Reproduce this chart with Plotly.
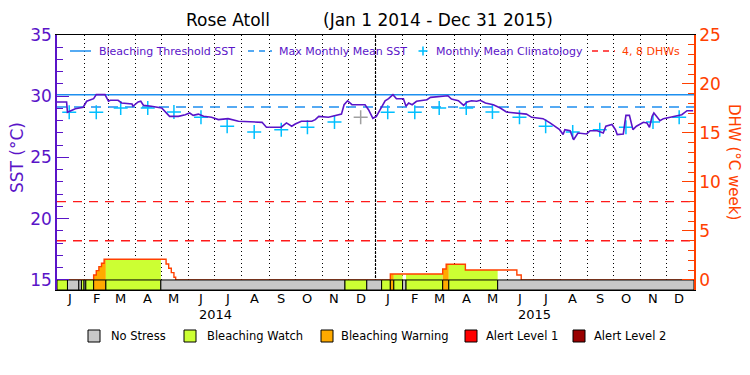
import plotly.graph_objects as go
import pandas as pd

site = "Rose Atoll"
period = "(Jan 1 2014 - Dec 31 2015)"

# ---------------- data ----------------
sst_dates = [
    '2014-01-01', '2014-01-12', '2014-01-13', '2014-01-22', '2014-01-31', '2014-02-04', '2014-02-12',
    '2014-02-15', '2014-02-25', '2014-03-01', '2014-03-03', '2014-03-12', '2014-03-16', '2014-03-28',
    '2014-03-29', '2014-04-04', '2014-04-07', '2014-04-10', '2014-04-19', '2014-05-01', '2014-05-10',
    '2014-05-20', '2014-05-28', '2014-06-02', '2014-06-06', '2014-06-12', '2014-06-18', '2014-06-27',
    '2014-07-05', '2014-07-16', '2014-07-28', '2014-08-24', '2014-08-29', '2014-09-15', '2014-09-21',
    '2014-09-27', '2014-10-01', '2014-10-08', '2014-10-20', '2014-10-24', '2014-10-28', '2014-11-08',
    '2014-11-23', '2014-11-26', '2014-11-30', '2014-12-05', '2014-12-20', '2014-12-24', '2014-12-29',
    '2015-01-02', '2015-01-12', '2015-01-16', '2015-01-21', '2015-01-25', '2015-02-02', '2015-02-05',
    '2015-02-08', '2015-02-12', '2015-02-17', '2015-03-01', '2015-03-05', '2015-03-20', '2015-03-25',
    '2015-03-29', '2015-04-06', '2015-04-12', '2015-04-16', '2015-04-21', '2015-04-27', '2015-05-01',
    '2015-05-07', '2015-05-16', '2015-05-24', '2015-05-31', '2015-06-12', '2015-06-23', '2015-06-29',
    '2015-07-12', '2015-07-20', '2015-07-31', '2015-08-04', '2015-08-06', '2015-08-12', '2015-08-16',
    '2015-08-21', '2015-08-31', '2015-09-04', '2015-09-12', '2015-09-19', '2015-09-22', '2015-09-29',
    '2015-10-03', '2015-10-05', '2015-10-12', '2015-10-14', '2015-10-15', '2015-10-19', '2015-10-21',
    '2015-10-23', '2015-10-27', '2015-11-04', '2015-11-08', '2015-11-11', '2015-11-14', '2015-11-16',
    '2015-11-19', '2015-11-23', '2015-11-27', '2015-12-12', '2015-12-18', '2015-12-24', '2015-12-31']
sst_values = [
    29.53, 29.53, 28.69, 28.98, 29.10, 29.59, 29.80,
    30.13, 30.13, 29.59, 29.67, 29.67, 29.45, 29.37,
    29.18, 29.53, 29.59, 29.26, 29.18, 29.04, 28.36,
    28.36, 28.49, 28.63, 28.44, 28.54, 28.36, 28.28,
    28.09, 28.17, 27.96, 27.87, 27.47, 27.47, 27.82,
    27.55, 27.73, 27.96, 27.96, 28.09, 28.36, 28.28,
    28.54, 29.31, 29.63, 29.31, 29.31, 28.90, 28.20,
    28.36, 29.63, 29.80, 30.13, 29.80, 29.80, 29.18,
    29.45, 29.31, 29.59, 29.72, 29.91, 30.04, 30.04,
    29.77, 29.63, 29.26, 29.53, 29.63, 29.59, 29.67,
    29.45, 29.31, 29.04, 28.71, 28.63, 28.54, 28.28,
    28.17, 27.82, 27.27, 26.87, 27.27, 27.18, 26.45,
    27.00, 26.92, 27.18, 27.18, 27.00, 27.55, 27.69,
    27.27, 26.87, 26.92, 27.96, 28.44, 28.44, 27.82,
    27.27, 27.55, 27.87, 27.82, 27.47, 28.36, 28.63,
    28.36, 28.00, 28.17, 28.36, 28.49, 28.82, 28.82]

clim_values = [28.70, 28.69, 29.04, 29.04, 28.71, 28.28, 27.55, 27.08, 27.27, 27.47, 27.90, 28.28]
clim_years = [2014, 2015]
clim_grey = ['2014-12-15']

mmm = 29.13
bleach_threshold = 30.13
dhw_levels = [4, 8]

dhw_dates = ['2014-01-01', '2014-02-12', '2014-02-15', '2014-02-18', '2014-02-21', '2014-02-24',
             '2014-05-06', '2014-05-09', '2014-05-12', '2014-05-15', '2014-05-17',
             '2015-01-18', '2015-03-19', '2015-03-23', '2015-04-14', '2015-06-12', '2015-06-17',
             '2016-01-01']
dhw_values = [0, 0.51, 0.95, 1.36, 1.70, 2.11,
              1.63, 1.19, 0.75, 0.28, 0,
              0.61, 1.12, 1.60, 1.02, 0.51, 0,
              0]

seg_start = ['2014-01-01', '2014-01-13', '2014-01-26', '2014-01-29', '2014-02-01', '2014-02-03',
             '2014-02-12', '2014-02-26', '2014-04-30', '2014-11-27', '2014-12-22', '2015-01-08',
             '2015-01-18', '2015-01-22', '2015-02-01', '2015-02-05', '2015-03-19', '2015-03-26',
             '2015-05-21']
seg_status = ['watch', 'none', 'none', 'watch', 'none', 'watch',
              'warning', 'watch', 'none', 'watch', 'none', 'watch',
              'warning', 'watch', 'none', 'watch', 'warning', 'watch',
              'none']
period_end = '2016-01-01'

month_letters = ['J', 'F', 'M', 'A', 'M', 'J', 'J', 'A', 'S', 'O', 'N', 'D']
years = [2014, 2015]

status_names = ['No Stress', 'Bleaching Watch', 'Bleaching Warning', 'Alert Level 1', 'Alert Level 2']
status_keys = ['none', 'watch', 'warning', 'alert1', 'alert2']
status_colors = ['#c8c8c8', '#ccff33', '#ffaa00', '#ff0000', '#990000']

# ---------------- styles ----------------
PURPLE = '#5a14c8'
ORANGE = '#ff4000'
BLUE = '#1e8fef'
CYAN = '#00bfff'
RED = '#ff1a1a'
FONT = 'DejaVu Sans'
color_of = dict(zip(status_keys, status_colors))

# plot area in window pixels; the page body adds an 8px offset
OFF = 8
L, R, T, B = 57, 694, 35, 290
def px(x):
    return (x - L) / (R - L)
def py(y):
    return (B - y) / (B - T)

fig = go.Figure()
x0, x1 = '2014-01-01', period_end

# threshold lines
fig.add_trace(go.Scatter(x=[x0, x1], y=[bleach_threshold] * 2, mode='lines',
                         line=dict(color=BLUE, width=1.5), yaxis='y', hoverinfo='skip'))
fig.add_trace(go.Scatter(x=[x0, x1], y=[mmm] * 2, mode='lines',
                         line=dict(color=BLUE, width=1.5, dash='10px,7px'), yaxis='y', hoverinfo='skip'))

# climatology
clim_x = [f'{y}-{m:02d}-15' for y in clim_years for m in range(1, 13)]
clim_y = clim_values * len(clim_years)
clim_c = ['#a0a0a0' if d in clim_grey else CYAN for d in clim_x]
fig.add_trace(go.Scatter(x=clim_x, y=clim_y, mode='markers',
                         marker=dict(symbol='cross-thin', size=10, line=dict(width=1.5, color=clim_c)),
                         yaxis='y'))

# SST
fig.add_trace(go.Scatter(x=sst_dates, y=sst_values, mode='lines',
                         line=dict(color=PURPLE, width=1.6), yaxis='y'))

# DHW level lines
for lv in dhw_levels:
    fig.add_trace(go.Scatter(x=[x0, x1], y=[lv, lv], mode='lines',
                             line=dict(color=RED, width=1.3, dash='9px,7px'), yaxis='y2', hoverinfo='skip'))

# DHW fills by status
dhw_t = pd.to_datetime(dhw_dates)
def dhw_at(t):
    v = 0.0
    for d, val in zip(dhw_t, dhw_values):
        if d <= t:
            v = val
    return v

seg_end = seg_start[1:] + [period_end]
for s, e, st in zip(seg_start, seg_end, seg_status):
    if st == 'none':
        continue
    ts, te = pd.Timestamp(s), pd.Timestamp(e)
    xs, ys = [ts], [dhw_at(ts)]
    for d, val in zip(dhw_t, dhw_values):
        if ts < d < te:
            xs.append(d)
            ys.append(val)
    xs.append(te)
    ys.append(ys[-1])
    fig.add_trace(go.Scatter(x=xs, y=ys, mode='lines', line=dict(width=0, shape='hv'),
                             fill='tozeroy', fillcolor=color_of[st], yaxis='y2', hoverinfo='skip'))

# DHW outline
fig.add_trace(go.Scatter(x=dhw_dates, y=dhw_values, mode='lines',
                         line=dict(color=ORANGE, width=1.4, shape='hv'), yaxis='y2'))

# status strip
for s, e, st in zip(seg_start, seg_end, seg_status):
    fig.add_trace(go.Scatter(x=[s, e, e, s, s], y=[-1.025, -1.025, 0, 0, -1.025], mode='lines',
                             fill='toself', fillcolor=color_of[st],
                             line=dict(color='black', width=1), yaxis='y2', hoverinfo='skip'))

month_starts = [f'{y}-{m:02d}-01' for y in years for m in range(1, 13)]
mid_months = [f'{y}-{m:02d}-15' for y in years for m in range(1, 13)]

shapes = []
# denser dotted year boundary
shapes.append(dict(type='line', xref='x', yref='paper', x0='2015-01-01', x1='2015-01-01', y0=0, y1=1,
                   line=dict(color='black', width=1.2, dash='2px,2px'), layer='below'))

annotations = []
# title
annotations.append(dict(text=site, x=px(228), y=py(20), xref='paper', yref='paper', showarrow=False,
                        font=dict(size=17, color='black', family=FONT), xanchor='center', yanchor='middle'))
annotations.append(dict(text=period, x=px(438), y=py(20), xref='paper', yref='paper', showarrow=False,
                        font=dict(size=17, color='black', family=FONT), xanchor='center', yanchor='middle'))
# axis titles
annotations.append(dict(text='SST (°C)', x=px(17), y=py(158), xref='paper', yref='paper', showarrow=False,
                        textangle=-90, xanchor='center', yanchor='middle',
                        font=dict(size=17, color=PURPLE, family=FONT)))
annotations.append(dict(text='DHW (°C week)', x=px(734), y=py(162), xref='paper', yref='paper', showarrow=False,
                        textangle=90, xanchor='center', yanchor='middle',
                        font=dict(size=15, color=ORANGE, family=FONT)))
# month letters
for d, m in zip(mid_months, month_letters * len(years)):
    annotations.append(dict(text=m, x=d, y=py(298), xref='x', yref='paper', showarrow=False,
                            font=dict(size=13, color='black', family=FONT), yanchor='middle'))
# years
for yr in years:
    annotations.append(dict(text=str(yr), x=f'{yr}-07-02', y=py(314), xref='x', yref='paper', showarrow=False,
                            font=dict(size=13, color='black', family=FONT), yanchor='middle'))

# top legend
ly = py(51)
shapes.append(dict(type='line', xref='paper', yref='paper', x0=px(70), x1=px(91), y0=ly, y1=ly,
                   line=dict(color=BLUE, width=1.5)))
annotations.append(dict(text='Bleaching Threshold SST', x=px(97), y=ly, xref='paper', yref='paper',
                        showarrow=False, xanchor='left', yanchor='middle',
                        font=dict(size=11, color=PURPLE, family=FONT)))
shapes.append(dict(type='line', xref='paper', yref='paper', x0=px(248), x1=px(272), y0=ly, y1=ly,
                   line=dict(color=BLUE, width=1.5, dash='6px,5px')))
annotations.append(dict(text='Max Monthly Mean SST', x=px(277), y=ly, xref='paper', yref='paper',
                        showarrow=False, xanchor='left', yanchor='middle',
                        font=dict(size=11, color=PURPLE, family=FONT)))
shapes.append(dict(type='line', xref='paper', yref='paper', x0=px(418.5), x1=px(427.5), y0=ly, y1=ly,
                   line=dict(color=CYAN, width=1.6)))
shapes.append(dict(type='line', xref='paper', yref='paper', x0=px(423), x1=px(423), y0=py(46.5), y1=py(55.5),
                   line=dict(color=CYAN, width=1.6)))
annotations.append(dict(text='Monthly Mean Climatology', x=px(434), y=ly, xref='paper', yref='paper',
                        showarrow=False, xanchor='left', yanchor='middle',
                        font=dict(size=11, color=PURPLE, family=FONT)))
shapes.append(dict(type='line', xref='paper', yref='paper', x0=px(592), x1=px(615), y0=ly, y1=ly,
                   line=dict(color=RED, width=1.3, dash='6px,5px')))
annotations.append(dict(text='4, 8 DHWs', x=px(620), y=ly, xref='paper', yref='paper',
                        showarrow=False, xanchor='left', yanchor='middle',
                        font=dict(size=11, color=ORANGE, family=FONT)))

# bottom legend
box_x = [88, 184, 321, 465, 573]
text_x = [109, 205, 339, 484, 592]
for bx, tx, name, col in zip(box_x, text_x, status_names, status_colors):
    shapes.append(dict(type='rect', xref='paper', yref='paper', x0=px(bx), x1=px(bx + 12),
                       y0=py(342), y1=py(330), fillcolor=col, line=dict(color='black', width=1)))
    annotations.append(dict(text=name, x=px(tx), y=py(336), xref='paper', yref='paper', showarrow=False,
                            xanchor='left', yanchor='middle', font=dict(size=11.5, color='black', family=FONT)))

fig.update_layout(
    width=750, height=375,
    margin=dict(l=L - OFF, r=750 - (R - OFF), t=T - OFF, b=375 - (B - OFF), autoexpand=False),
    plot_bgcolor='white', paper_bgcolor='white',
    showlegend=False,
    font=dict(family=FONT),
    shapes=shapes, annotations=annotations,
    xaxis=dict(type='date', range=[x0, x1], tickmode='array', tickvals=mid_months,
               showticklabels=False, ticks='', showgrid=False, zeroline=False,
               showline=True, linecolor='black', linewidth=1, mirror=True,
               minor=dict(tickmode='array', tickvals=month_starts[1:], showgrid=True,
                          gridcolor='black', griddash='1px,3px', gridwidth=1, ticks='')),
    yaxis=dict(range=[14.18, 35], tickmode='linear', tick0=15, dtick=5, ticks='inside', ticklen=12,
               tickcolor=PURPLE, tickfont=dict(size=17, color=PURPLE, family=FONT),
               showline=True, linecolor=PURPLE, linewidth=1.5, showgrid=False, zeroline=False,
               minor=dict(tickmode='linear', tick0=0, dtick=1, ticks='inside', ticklen=6,
                          tickcolor=PURPLE, showgrid=False)),
    yaxis2=dict(overlaying='y', side='right', range=[-1.025, 25], tickmode='linear', tick0=0, dtick=5,
                ticks='inside', ticklen=12, tickcolor=ORANGE,
                tickfont=dict(size=17, color=ORANGE, family=FONT),
                showline=True, linecolor=ORANGE, linewidth=1.5, showgrid=False, zeroline=False,
                minor=dict(tickmode='linear', tick0=0, dtick=1, ticks='inside', ticklen=6,
                           tickcolor=ORANGE, showgrid=False)),
)

fig.write_html("out.html")
